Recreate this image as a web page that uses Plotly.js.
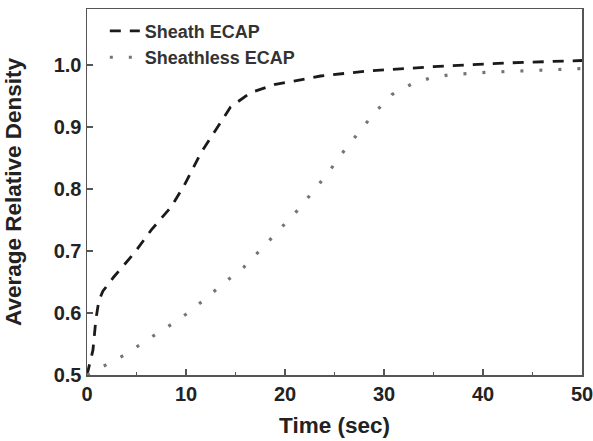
<!DOCTYPE html>
<html><head><meta charset="utf-8">
<script src="https://cdn.plot.ly/plotly-3.0.1.min.js"></script>
<style>body{margin:0;background:#fff}#c{width:593px;height:441px}</style>
</head><body><div id="c"></div>
<script>
const sheathT = [0, 0.6, 0.9, 1.2, 1.6, 2.7, 4.8, 6.5, 8.5, 9.8, 11.5, 12.8, 14.5, 16.5, 18.9, 21.3, 23.6, 28.3, 35, 42.4, 50];
const sheathV = [0.5, 0.54, 0.59, 0.62, 0.635, 0.658, 0.697, 0.734, 0.771, 0.805, 0.858, 0.89, 0.932, 0.955, 0.968, 0.975, 0.982, 0.99, 0.997, 1.003, 1.007];
const sheathlessT = [0, 2.1, 4.1, 5.9, 8, 10, 11.9, 13.8, 15.8, 17.6, 19.5, 21.3, 22.9, 24.4, 25.9, 27.4, 29, 30.8, 32.8, 34.7, 36.6, 40.5, 44.5, 50];
const sheathlessV = [0.5, 0.518, 0.535, 0.555, 0.576, 0.598, 0.622, 0.648, 0.673, 0.703, 0.735, 0.766, 0.797, 0.827, 0.86, 0.89, 0.922, 0.952, 0.969, 0.979, 0.984, 0.988, 0.99, 0.994];
const xTicks = [0, 10, 20, 30, 40, 50];
const yTicks = [0.5, 0.6, 0.7, 0.8, 0.9, 1.0];
const yTickText = ['0.5', '0.6', '0.7', '0.8', '0.9', '1.0'];

const traces = [
  {x: sheathT, y: sheathV, name: 'Sheath ECAP', mode: 'lines', line: {color: '#1a1a1a', width: 2.8, dash: '11px,9px'}},
  {x: sheathlessT, y: sheathlessV, name: 'Sheathless ECAP', mode: 'lines', line: {color: '#747474', width: 3.2, dash: '3px,16px'}}
];
const FAM = 'Liberation Sans, Arial, sans-serif';
const tickFont = {family: FAM, size: 20, color: '#222', weight: 'bold'};
const titleFont = {family: FAM, size: 22.5, color: '#222', weight: 'bold'};
const layout = {
  width: 593, height: 441,
  margin: {l: 87, r: 11, t: 9, b: 66},
  paper_bgcolor: '#fff', plot_bgcolor: '#fff',
  font: {family: FAM, size: 18, color: '#222', weight: 'bold'},
  showlegend: true,
  legend: {x: 0.036, y: 0.99, xanchor: 'left', yanchor: 'top', bgcolor: 'rgba(0,0,0,0)',
    font: {family: FAM, size: 18, color: '#333', weight: 'bold'}, tracegroupgap: 0, itemwidth: 30},
  xaxis: {range: [0, 50], tickvals: xTicks, ticktext: xTicks.map(String), ticks: 'inside', ticklen: 6, tickwidth: 1.5, tickcolor: '#555',
    showline: true, linecolor: '#555', linewidth: 1.5, mirror: true, showgrid: false, zeroline: false,
    tickfont: tickFont, ticklabeloverflow: 'allow', automargin: false,
    minor: {tickvals: [5, 15, 25, 35, 45], ticks: 'inside', ticklen: 3, tickwidth: 1.5, tickcolor: '#555', showgrid: false},
    title: {text: 'Time (sec)', font: titleFont, standoff: 13}},
  yaxis: {range: [0.5, 1.09], tickvals: yTicks, ticktext: yTickText, ticks: 'inside', ticklen: 6, tickwidth: 1.5, tickcolor: '#555',
    showline: true, linecolor: '#555', linewidth: 1.5, mirror: true, showgrid: false, zeroline: false,
    tickfont: tickFont, automargin: false,
    title: {text: 'Average Relative Density', font: titleFont, standoff: 26}}
};
Plotly.newPlot('c', traces, layout, {displayModeBar: false, staticPlot: true});
</script></body></html>
